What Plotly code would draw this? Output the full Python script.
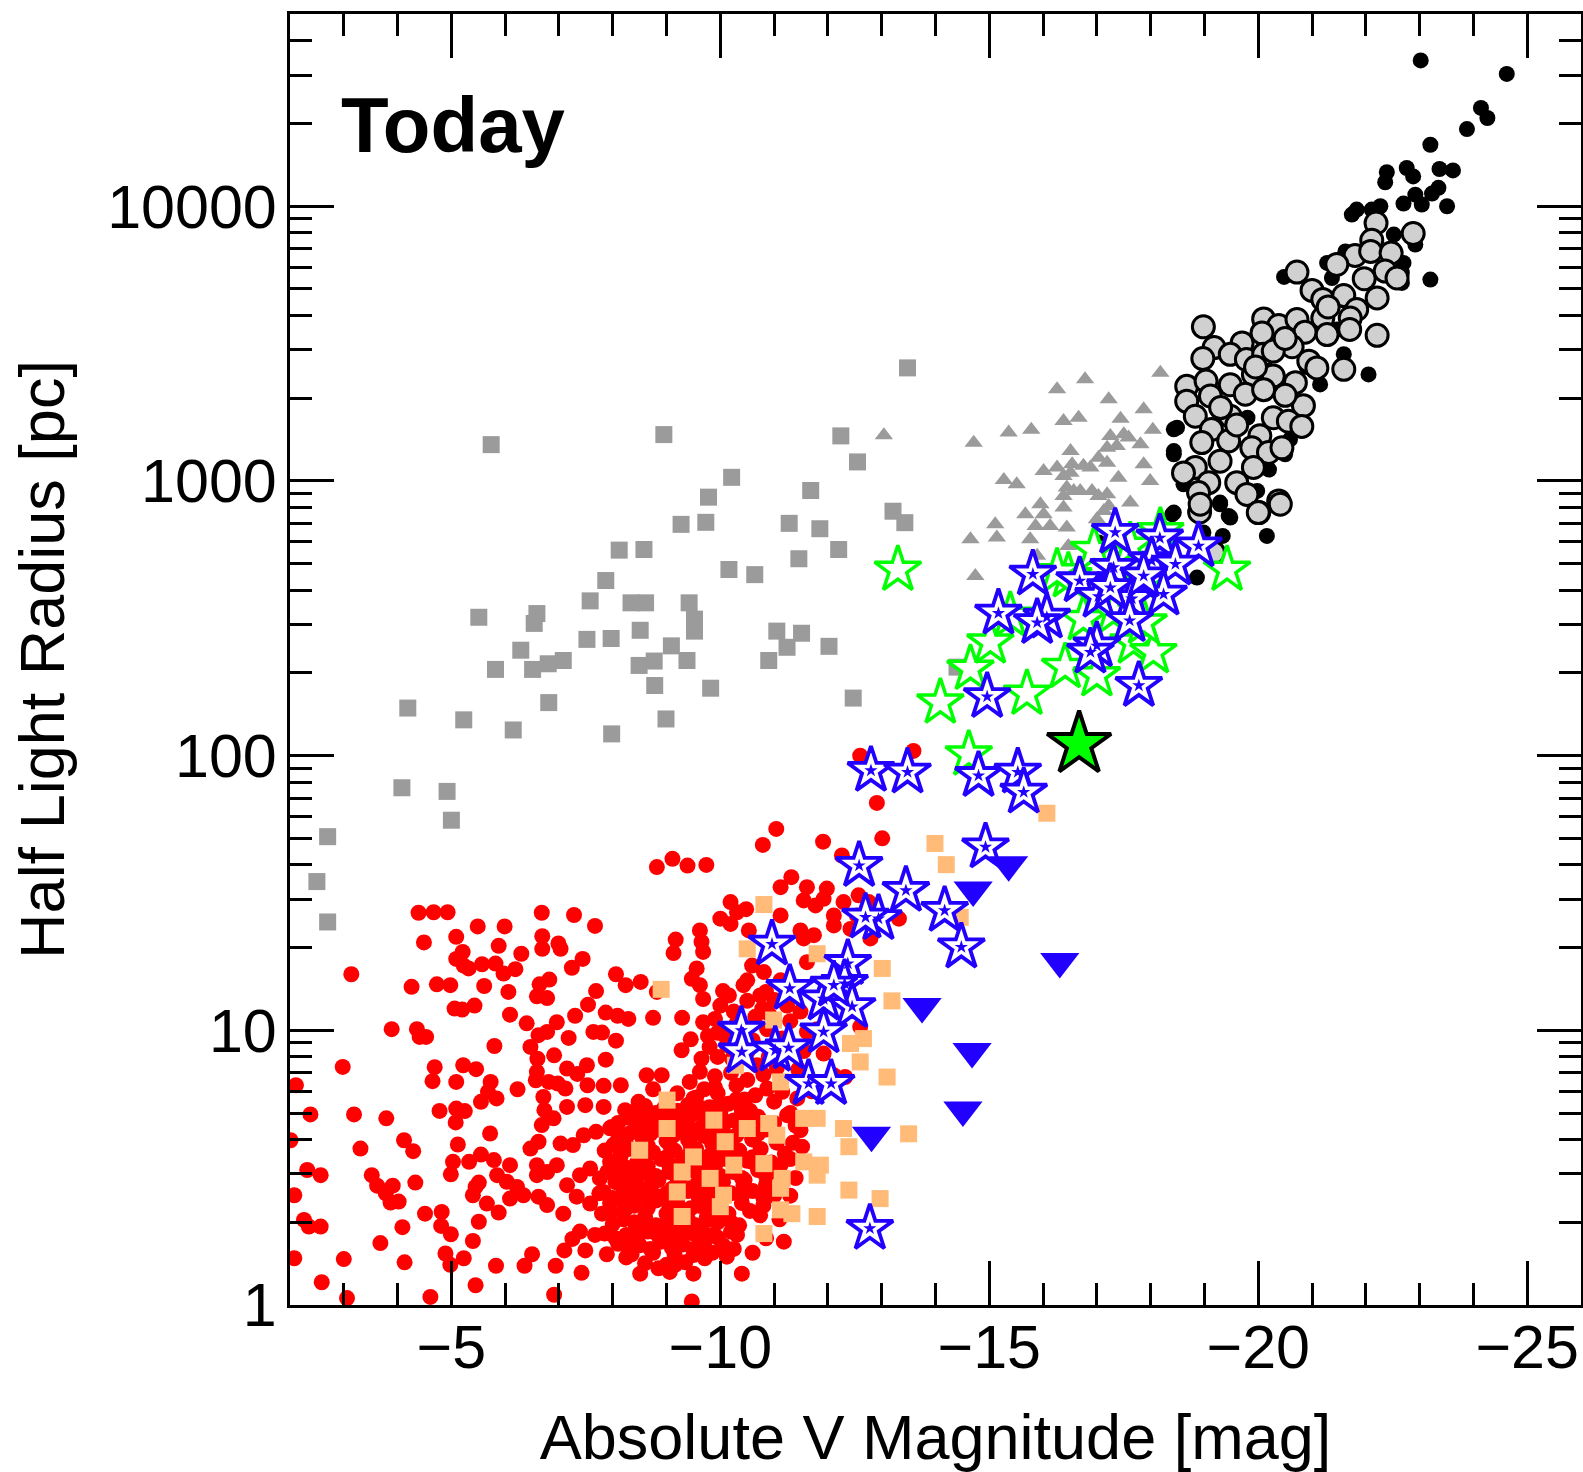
import plotly.graph_objects as go

# ---- data: (absolute V magnitude, half-light radius in pc) ----
GREY_SQUARES = [
    (-13.48, 2580), (-5.74, 1356), (-8.95, 1475), (-12.24, 1459), (-12.55, 1173), (-10.21, 1031),
    (-9.78, 873), (-11.68, 923), (-13.21, 776), (-13.43, 705), (-9.27, 695), (-9.73, 707),
    (-11.28, 701), (-11.85, 670), (-8.12, 560), (-8.58, 563), (-12.20, 563), (-11.46, 521),
    (-7.87, 434), (-10.16, 476), (-10.64, 456), (-7.58, 366), (-8.34, 360), (-8.61, 360),
    (-9.42, 360), (-5.51, 319), (-6.59, 329), (-6.54, 303), (-9.52, 314), (-9.52, 284),
    (-8.51, 286), (-7.52, 265), (-7.97, 267), (-11.05, 284), (-11.51, 279), (-11.24, 248),
    (-12.02, 250), (-9.09, 251), (-6.29, 242), (-5.82, 206), (-6.51, 206), (-6.80, 216),
    (-7.08, 222), (-8.49, 213), (-8.77, 221), (-9.38, 222), (-10.90, 222), (-8.78, 180),
    (-9.82, 176), (-12.47, 162), (-6.81, 156), (-4.19, 149), (-5.23, 135), (-6.15, 124),
    (-7.98, 120), (-8.99, 136), (-4.08, 76.4), (-4.92, 74.1), (-5.00, 58.2), (-2.70, 50.7),
    (-2.50, 34.8), (-2.70, 24.8), (-14.40, 210),
]

GREY_TRIANGLES = [
    (-13.04, 1466), (-14.71, 1378), (-15.36, 1500), (-15.78, 1535), (-16.26, 2155), (-16.78, 2344),
    (-18.18, 2478), (-17.22, 1982), (-17.87, 1823), (-16.38, 1653), (-16.66, 1700), (-17.44, 1686),
    (-18.04, 1535), (-17.25, 1459), (-17.50, 1479), (-17.59, 1438), (-17.81, 1360), (-17.19, 1322),
    (-17.37, 1341), (-16.51, 1285), (-17.03, 1216), (-16.75, 1135), (-16.88, 1119), (-16.01, 1087),
    (-16.26, 1119), (-16.54, 1150), (-17.19, 1166), (-17.87, 1150), (-15.27, 1008), (-15.51, 972),
    (-16.38, 1042), (-16.51, 1072), (-17.40, 1028), (-17.99, 1000), (-16.44, 946), (-16.57, 920),
    (-16.69, 920), (-16.38, 881), (-16.91, 920), (-17.03, 881), (-17.19, 895), (-16.38, 800),
    (-15.95, 822), (-15.67, 756), (-16.01, 756), (-17.13, 778), (-17.62, 834), (-17.22, 811),
    (-15.11, 695), (-15.86, 686), (-16.13, 686), (-16.44, 677), (-14.65, 614), (-15.14, 622),
    (-15.76, 614), (-16.47, 580), (-15.89, 534), (-14.74, 451), (-17.00, 726),
]

BLACK_DOTS = [
    (-23.02, 33960), (-24.62, 30340), (-24.14, 22800), (-24.26, 20960), (-23.88, 19100),
    (-23.20, 16750), (-22.39, 13300), (-22.36, 12230), (-22.76, 13780), (-22.88, 12840),
    (-23.37, 13670), (-23.62, 13510), (-23.35, 11670), (-23.23, 11120), (-22.92, 11020),
    (-23.04, 10140), (-22.70, 10230), (-23.51, 10000), (-21.74, 9330), (-21.83, 9730),
    (-22.11, 9730), (-22.27, 10000), (-22.92, 7260), (-22.52, 7890), (-22.70, 6220),
    (-22.67, 5260), (-23.20, 5410), (-21.62, 6850), (-21.28, 6220), (-21.37, 5480),
    (-20.48, 5530), (-22.05, 2443), (-21.15, 2246), (-18.49, 1563), (-18.43, 1250),
    (-18.61, 972), (-19.29, 834), (-19.45, 746), (-18.43, 767), (-19.34, 631), (-20.16, 631),
    (-18.98, 649), (-19.98, 920), (-20.50, 1250), (-20.59, 1416), (-21.59, 2892), (-21.46, 3556),
    (-18.67, 2153), (-18.40, 756), (-18.43, 1285), (-18.43, 1542), (-19.29, 822), (-18.86, 445),
    (-17.03, 597), (-19.48, 736), (-22.67, 5730), (-21.9, 4300), (-20.9, 2600), (-19.8, 1700),
    (-20.2, 1100), (-19.1, 1000),
]

GREY_CIRCLES = [
    (-22.19, 8690), (-22.88, 7960), (-22.11, 7520), (-21.80, 6620), (-22.09, 6850), (-22.47, 6760),
    (-21.46, 6140), (-22.36, 5810), (-21.97, 5450), (-22.58, 5480), (-20.72, 5760), (-22.21, 4640),
    (-21.00, 4940), (-21.20, 4580), (-21.59, 4730), (-21.83, 4210), (-21.20, 3920), (-21.71, 3920),
    (-18.98, 3640), (-22.21, 3390), (-21.70, 3560), (-20.10, 3890), (-20.38, 3680), (-20.72, 3870),
    (-21.28, 3410), (-20.87, 3480), (-20.63, 3080), (-20.07, 3460), (-19.70, 3180), (-19.18, 3060),
    (-18.97, 2790), (-19.48, 2890), (-19.78, 2770), (-20.10, 2890), (-20.28, 2970), (-20.94, 2730),
    (-21.09, 2580), (-21.59, 2550), (-18.67, 2210), (-19.03, 2310), (-19.48, 2240), (-19.91, 2440),
    (-20.28, 2410), (-20.69, 2280), (-18.67, 1950), (-19.11, 2040), (-19.76, 2070), (-20.10, 2150),
    (-20.84, 1880), (-18.83, 1720), (-19.48, 1720), (-20.28, 1700), (-20.56, 1650), (-20.81, 1580),
    (-19.13, 1540), (-20.03, 1460), (-18.95, 1380), (-19.45, 1400), (-19.88, 1320), (-20.19, 1270),
    (-20.44, 1320), (-19.29, 1180), (-18.83, 1120), (-19.91, 1120), (-18.61, 1070), (-19.08, 986),
    (-19.60, 986), (-19.79, 893), (-18.89, 907), (-20.38, 846), (-18.91, 771), (-20.01, 767),
    (-19.17, 548), (-18.92, 823), (-20.00, 767), (-20.41, 823), (-19.6, 1600), (-19.3, 1850),
    (-20.5, 2050), (-19.95, 2600), (-20.5, 3300), (-21.3, 4300),
]

RED_DOTS = [
    # faint, compact systems scattered at low luminosity
    (-8.82, 39.3), (-9.11, 42.1), (-9.39, 39.8), (-9.74, 40.0), (-4.39, 26.8), (-4.67, 26.9),
    (-4.93, 26.9), (-6.68, 26.8), (-7.28, 26.3), (-7.67, 24.0), (-5.49, 23.9), (-5.99, 23.9),
    (-4.49, 20.9), (-5.09, 21.9), (-5.88, 20.3), (-6.69, 22.0), (-6.69, 19.8), (-6.99, 20.7),
    (-7.03, 19.8), (-6.30, 19.0), (-7.44, 18.2), (-9.17, 21.4), (-9.13, 19.1), (-9.62, 23.1),
    (-9.65, 21.0), (-9.68, 19.3), (-5.21, 19.3), (-5.09, 18.2), (-5.23, 17.2), (-5.32, 16.8),
    (-5.57, 17.4), (-5.82, 17.5), (-5.97, 16.1), (-6.19, 16.7), (-7.24, 16.9), (-3.14, 16.0),
    (-4.26, 14.4), (-4.73, 14.7), (-4.98, 14.6), (-5.61, 14.5), (-6.06, 13.8), (-6.64, 14.7),
    (-6.82, 15.3), (-6.59, 13.3), (-6.78, 13.1), (-7.69, 13.9), (-8.06, 16.0), (-8.24, 14.6),
    (-8.52, 15.0), (-8.82, 13.8), (-9.47, 15.4), (-9.56, 16.8), (-9.62, 14.6), (-9.68, 13.0),
    (-5.06, 12.0), (-5.20, 11.9), (-5.43, 12.3), (-6.09, 11.4), (-6.40, 10.6), (-7.30, 11.3),
    (-7.54, 12.4), (-7.87, 11.6), (-8.09, 11.3), (-8.29, 11.0), (-8.75, 11.1), (-9.29, 11.1),
    (-9.68, 10.7), (-3.89, 10.1), (-4.36, 10.1), (-4.41, 9.46), (-4.53, 9.46), (-5.80, 8.77),
    (-6.62, 9.60), (-6.78, 9.87), (-6.96, 10.7), (-7.18, 9.38), (-6.47, 8.70), (-7.64, 9.87),
    (-7.80, 9.81), (-8.06, 9.17), (-9.45, 9.27), (-9.28, 8.46), (-9.65, 7.88), (-9.77, 9.54),
    (-2.98, 7.36), (-4.69, 7.34), (-5.22, 7.46), (-5.46, 7.22), (-4.65, 6.53), (-5.09, 6.49),
    (-5.73, 6.49), (-6.23, 6.10), (-5.68, 5.97), (-5.84, 5.65), (-5.55, 5.49), (-6.60, 7.88),
    (-6.91, 8.11), (-6.59, 7.06), (-7.15, 7.26), (-7.34, 6.94), (-7.52, 7.46), (-7.87, 7.82),
    (-6.57, 6.58), (-6.81, 6.49), (-6.98, 6.40), (-7.12, 6.14), (-7.53, 6.31), (-7.83, 6.28),
    (-8.15, 6.31), (-8.63, 6.86), (-8.91, 6.86), (-8.75, 6.10), (-9.43, 6.49), (-9.62, 7.06),
    (-2.11, 6.31), (-2.38, 4.94), (-3.19, 4.94), (-3.79, 4.78), (-4.78, 5.09), (-5.09, 5.19),
    (-5.25, 5.08), (-5.08, 4.62), (-5.72, 4.21), (-6.71, 5.72), (-6.73, 5.12), (-6.68, 4.52),
    (-6.90, 4.78), (-7.15, 5.26), (-7.49, 5.34), (-7.83, 5.26), (-8.23, 5.12), (-8.48, 5.49),
    (-8.63, 4.91), (-9.00, 5.12), (-9.50, 5.65), (-9.68, 5.19), (-2.01, 3.98), (-3.31, 3.71),
    (-4.12, 3.98), (-4.29, 3.63), (-5.12, 3.84), (-5.03, 3.32), (-4.99, 2.99), (-5.33, 3.32),
    (-5.55, 3.53), (-5.79, 3.37), (-6.09, 3.23), (-6.47, 3.71), (-6.62, 3.93), (-7.03, 3.87),
    (-7.26, 3.82), (-7.46, 4.15), (-7.69, 4.27), (-7.98, 4.45), (-8.01, 3.82), (-8.20, 4.15),
    (-8.51, 4.27), (-8.69, 4.33), (-9.13, 4.15), (-9.43, 4.39), (-9.68, 4.15), (-2.32, 3.10),
    (-2.57, 2.97), (-3.52, 2.97), (-3.62, 2.72), (-3.91, 2.72), (-3.78, 2.55), (-3.87, 2.36),
    (-4.02, 2.38), (-4.33, 2.79), (-5.45, 2.69), (-5.51, 2.79), (-5.85, 2.97), (-6.03, 2.81),
    (-6.22, 2.69), (-6.59, 3.23), (-6.78, 3.05), (-6.59, 2.97), (-6.96, 3.23), (-7.15, 2.73),
    (-7.39, 2.97), (-7.58, 3.14), (-7.76, 2.89), (-7.95, 3.32), (-8.14, 3.05), (-8.32, 2.89),
    (-8.51, 3.23), (-2.08, 2.51), (-2.26, 2.04), (-2.35, 1.93), (-2.57, 1.93), (-4.09, 1.92),
    (-4.51, 2.15), (-4.82, 2.18), (-4.81, 1.94), (-4.99, 1.81), (-5.51, 2.01), (-5.40, 1.71),
    (-5.40, 2.51), (-5.66, 2.34), (-5.88, 2.17), (-6.09, 2.44), (-6.34, 2.51), (-6.62, 2.48),
    (-6.78, 2.31), (-7.08, 2.15), (-7.33, 2.48), (-7.58, 2.34), (-7.83, 2.58), (-7.95, 2.18),
    (-8.20, 2.38), (-3.68, 1.68), (-3.00, 1.47), (-2.08, 1.48), (-2.59, 1.21), (-4.13, 1.43),
    (-4.89, 1.54), (-4.98, 1.40), (-5.23, 1.48), (-5.45, 1.18), (-5.83, 1.39), (-6.36, 1.39),
    (-6.50, 1.53), (-6.94, 1.39), (-7.10, 1.58), (-7.25, 1.74), (-7.39, 1.85), (-7.67, 1.80),
    (-7.49, 1.58), (-7.42, 1.31), (-7.89, 1.53), (-8.25, 1.49), (-8.51, 1.30), (-8.85, 1.36),
    (-9.06, 1.32), (-9.16, 1.40), (-9.50, 1.30), (-9.50, 1.52), (-9.71, 1.48), (-3.06, 1.06),
    (-4.61, 1.07), (-6.91, 1.09), (-9.47, 1.03),
    # brighter compact systems
    (-11.04, 54.1), (-10.79, 47.3), (-11.91, 48.6), (-13.01, 50.0), (-12.26, 43.3), (-11.32, 36.1),
    (-11.12, 33.2), (-11.61, 33.2), (-11.98, 32.8), (-11.92, 30.1), (-11.55, 29.7), (-11.77, 28.5),
    (-12.29, 29.3), (-12.57, 31.0), (-12.76, 29.3), (-12.54, 26.2), (-12.11, 26.2), (-11.12, 26.2),
    (-10.19, 29.3), (-10.31, 26.9), (-10.48, 27.6), (-10.00, 25.5), (-10.19, 24.4), (-10.53, 23.1),
    (-10.59, 17.2), (-10.50, 15.2), (-10.81, 16.3), (-11.49, 23.1), (-11.55, 21.6), (-11.74, 22.2),
    (-11.61, 17.7), (-12.11, 24.1), (-12.42, 23.4), (-12.79, 21.6), (-13.32, 25.5), (-10.74, 13.4),
    (-10.78, 12.0), (-11.12, 15.2), (-11.24, 14.6), (-10.16, 13.4), (-10.43, 14.6), (-10.00, 12.3),
    (-10.25, 11.7), (-11.24, 12.3), (-11.49, 11.7), (-11.61, 9.87), (-11.80, 10.1), (-11.92, 8.23),
    (-12.60, 10.3), (-10.50, 8.34), (-10.87, 10.1), (-11.15, 9.33), (-10.12, 8.83), (-10.22, 7.88),
    (-10.68, 7.46), (-12.11, 6.86), (-12.32, 6.76), (-11.49, 4.33), (-11.52, 3.77), (-10.74, 2.12),
    (-11.18, 1.70), (-10.31, 1.80), (-10.40, 1.30), (-10.12, 1.50), (-10.59, 4.04), (-10.59, 3.32),
    (-10.43, 2.73), (-10.81, 2.58), (-11.12, 3.23), (-11.24, 4.91), (-11.43, 5.65), (-11.15, 5.97),
    (-10.87, 6.14), (-12.91, 67.3), (-12.60, 100), (-13.59, 104),
    (-9.90, 6.8), (-10.20, 7.0), (-10.50, 6.6), (-10.80, 6.9), (-11.05, 7.3), (-9.95, 8.0),
    (-10.35, 8.1), (-10.90, 8.0), (-10.10, 9.5), (-10.60, 9.2), (-10.30, 10.6), (-10.65, 11.2),
    (-9.90, 11.0), (-10.05, 13.9), (-10.50, 12.8), (-10.90, 11.5), (-11.30, 10.8), (-11.00, 12.9),
    (-9.90, 6.2), (-10.30, 6.3), (-10.65, 5.8), (-11.00, 5.5), (-11.30, 5.0), (-10.45, 5.6),
    (-10.00, 5.4), (-9.70, 6.1), (-11.40, 4.5), (-11.35, 3.9), (-11.30, 3.4), (-11.40, 2.9),
    (-11.30, 2.5), (-11.10, 2.05), (-10.85, 1.75), (-10.60, 1.55), (-9.85, 1.55), (-10.25, 1.6),
    (-9.80, 8.7), (-9.95, 9.8), (-10.85, 13.8), (-11.55, 8.4), (-11.45, 7.2), (-11.70, 6.0),
    # the crowded core of the distribution
    (-9.20, 5.9), (-9.55, 5.7), (-9.95, 5.9), (-10.30, 5.6),
    (-8.60, 5.3), (-8.95, 5.2), (-9.40, 5.35), (-9.80, 5.25), (-10.15, 5.4), (-10.55, 5.1),
    (-8.30, 4.8), (-8.70, 4.85), (-9.10, 4.75), (-9.45, 4.9), (-9.90, 4.8), (-10.25, 4.7),
    (-10.70, 4.85), (-11.00, 4.6),
    (-7.95, 4.4), (-8.45, 4.45), (-8.85, 4.35), (-9.25, 4.4), (-9.65, 4.45), (-10.05, 4.3),
    (-10.40, 4.4), (-10.85, 4.35),
    (-8.10, 4.0), (-8.55, 4.05), (-9.00, 3.95), (-9.40, 4.0), (-9.75, 4.1), (-10.20, 3.95),
    (-10.60, 4.0), (-11.05, 3.9),
    (-7.85, 3.65), (-8.30, 3.7), (-8.75, 3.6), (-9.15, 3.65), (-9.55, 3.7), (-9.95, 3.6),
    (-10.35, 3.65), (-10.75, 3.7), (-11.20, 3.55),
    (-8.05, 3.35), (-8.45, 3.3), (-8.90, 3.4), (-9.30, 3.35), (-9.70, 3.3), (-10.10, 3.4),
    (-10.50, 3.35), (-10.95, 3.3),
    (-7.90, 3.05), (-8.25, 3.1), (-8.65, 3.0), (-9.05, 3.05), (-9.45, 3.1), (-9.85, 3.0),
    (-10.25, 3.05), (-10.70, 3.1), (-11.10, 3.0),
    (-8.05, 2.8), (-8.45, 2.75), (-8.85, 2.85), (-9.25, 2.8), (-9.65, 2.75), (-10.05, 2.8),
    (-10.45, 2.85), (-10.85, 2.75),
    (-7.75, 2.55), (-8.20, 2.6), (-8.60, 2.5), (-9.00, 2.55), (-9.40, 2.6), (-9.80, 2.5),
    (-10.20, 2.55), (-10.60, 2.6), (-11.00, 2.5),
    (-7.95, 2.35), (-8.40, 2.3), (-8.80, 2.4), (-9.20, 2.35), (-9.60, 2.3), (-10.00, 2.4),
    (-10.40, 2.35), (-10.80, 2.3),
    (-7.80, 2.15), (-8.20, 2.2), (-8.60, 2.1), (-9.00, 2.15), (-9.35, 2.2), (-9.75, 2.1),
    (-10.15, 2.15), (-10.55, 2.2),
    (-8.00, 1.97), (-8.40, 2.0), (-8.80, 1.95), (-9.15, 1.98), (-9.55, 1.95), (-9.95, 2.0),
    (-10.35, 1.95),
    (-7.85, 1.82), (-8.25, 1.8), (-8.65, 1.85), (-9.05, 1.8), (-9.45, 1.83), (-9.85, 1.8),
    (-10.20, 1.85),
    (-8.10, 1.67), (-8.50, 1.65), (-8.90, 1.7), (-9.30, 1.66), (-9.70, 1.68), (-10.05, 1.65),
    (-8.35, 1.53), (-8.75, 1.55), (-9.15, 1.52), (-9.55, 1.54),
    (-8.60, 1.42), (-9.00, 1.4), (-9.35, 1.43),
    (-8.25, 3.85), (-8.65, 3.8), (-9.05, 3.85), (-9.45, 3.8), (-9.85, 3.85),
    (-8.20, 3.2), (-8.65, 3.2), (-9.05, 3.25), (-9.50, 3.2), (-9.90, 3.2),
    (-8.30, 2.65), (-8.70, 2.7), (-9.10, 2.65), (-9.50, 2.7), (-9.90, 2.65),
    (-8.25, 2.25), (-8.65, 2.25), (-9.05, 2.3), (-9.45, 2.25), (-9.85, 2.25),
    (-8.45, 1.88), (-8.85, 1.9), (-9.25, 1.88), (-9.65, 1.9),
    (-8.40, 5.05), (-8.80, 5.0), (-9.20, 5.1), (-9.60, 5.05), (-10.00, 5.0), (-10.40, 5.1),
    (-8.10, 4.6), (-8.50, 4.6), (-8.90, 4.65), (-9.30, 4.6), (-9.70, 4.6), (-10.10, 4.65),
    (-10.50, 4.6), (-10.80, 4.55),
    (-8.30, 4.2), (-8.70, 4.2), (-9.10, 4.25), (-9.50, 4.2), (-9.90, 4.2), (-10.30, 4.15),
    (-10.70, 4.2),
    (-8.15, 3.5), (-8.60, 3.5), (-9.00, 3.45), (-9.40, 3.5), (-9.80, 3.5), (-10.20, 3.5),
    (-10.60, 3.45),
    (-8.40, 2.95), (-8.80, 2.95), (-9.20, 2.9), (-9.60, 2.95), (-10.00, 2.95), (-10.40, 2.9),
    (-10.85, 2.95),
    (-8.00, 2.45), (-8.40, 2.45), (-8.80, 2.5), (-9.20, 2.45), (-9.60, 2.45), (-10.00, 2.45),
    (-10.40, 2.5), (-10.80, 2.45),
    (-8.20, 2.05), (-8.60, 2.05), (-9.00, 2.0), (-9.40, 2.05), (-9.80, 2.05), (-10.20, 2.0),
    (-8.05, 1.75), (-8.45, 1.75), (-8.85, 1.78), (-9.20, 1.74), (-9.60, 1.75), (-9.95, 1.76),
    (-8.30, 1.6), (-8.70, 1.6), (-9.10, 1.61), (-9.50, 1.6),
]

ORANGE_SQUARES = [
    (-10.81, 28.7), (-10.50, 19.8), (-11.80, 19.0), (-13.01, 16.8), (-13.19, 12.8), (-8.90, 14.1),
    (-10.99, 10.9), (-12.66, 9.33), (-12.42, 8.95), (-12.60, 7.67), (-13.10, 6.76), (-11.12, 6.49),
    (-10.28, 7.46), (-9.01, 5.57), (-9.01, 4.39), (-9.88, 4.71), (-10.50, 4.39), (-10.90, 4.58),
    (-11.05, 4.15), (-11.55, 4.78), (-11.80, 4.78), (-12.29, 4.39), (-12.39, 3.77), (-8.50, 3.66),
    (-9.50, 3.46), (-10.09, 3.93), (-10.25, 3.23), (-10.81, 3.27), (-11.15, 2.89), (-11.55, 3.32),
    (-11.80, 2.97), (-11.86, 3.23), (-9.29, 3.05), (-9.81, 2.89), (-9.20, 2.58), (-10.06, 2.51),
    (-11.12, 2.66), (-12.39, 2.62), (-12.97, 2.44), (-9.29, 2.10), (-10.00, 2.28), (-11.12, 2.22),
    (-11.33, 2.15), (-11.80, 2.10), (-10.81, 1.82), (-13.50, 4.2), (-16.07, 61.7), (-13.99, 47.9),
    (-14.20, 40.1), (-14.46, 25.8),
]

GREEN_STARS = [
    (-13.30, 475), (-19.42, 475), (-14.09, 156), (-14.65, 207), (-15.02, 258), (-15.70, 168),
    (-16.41, 210), (-17.00, 196), (-17.68, 258), (-18.05, 238), (-15.39, 323), (-17.87, 305),
    (-18.18, 655), (-17.62, 580), (-16.47, 450), (-16.75, 314), (-17.31, 332), (-14.62, 101),
    (-16.26, 465), (-16.95, 560), (-17.90, 430),
]

BLUE_STARS = [
    (-17.34, 650), (-18.17, 620), (-18.89, 580), (-15.81, 458), (-16.68, 433), (-17.31, 484),
    (-18.02, 512), (-18.46, 498), (-17.03, 380), (-17.65, 373), (-18.24, 387), (-17.87, 451),
    (-17.25, 409), (-15.17, 330), (-16.07, 319), (-15.89, 305), (-17.61, 310), (-17.00, 251),
    (-16.88, 238), (-14.96, 164), (-17.78, 180),
    (-12.80, 88.3), (-13.48, 87.1), (-14.80, 84.6), (-15.53, 87.1), (-15.64, 73.6), (-14.93, 46.5),
    (-12.58, 39.8), (-13.45, 32.3), (-14.17, 27.3), (-14.48, 20.1), (-12.94, 25.5), (-12.70, 25.8),
    (-10.96, 20.6), (-11.29, 14.2), (-12.37, 17.5), (-12.31, 14.8), (-11.92, 13.0), (-12.45, 12.2),
    (-12.11, 14.6), (-10.39, 10.0), (-10.40, 8.34), (-11.02, 8.46), (-11.27, 8.63), (-11.92, 9.87),
    (-11.64, 6.40), (-12.06, 6.40), (-12.78, 1.90),
]

BLUE_TRIANGLES = [
    (-15.36, 40.1), (-14.70, 32.4), (-16.31, 17.8), (-13.75, 12.2), (-14.68, 8.37),
    (-14.51, 5.13), (-12.81, 4.15),
]

HIGHLIGHT_STAR = [(-16.67, 110)]

X_TICKS = [-5, -10, -15, -20, -25]
Y_TICKS = [1, 10, 100, 1000, 10000]
Y_TICK_TEXT = ["1", "10", "100", "1000", "10000"]

FONT = "Liberation Sans, Arial, Helvetica, sans-serif"
BLUE = "#2200FF"
GREEN = "#00FF00"


def cols(pairs):
    return [p[0] for p in pairs], [p[1] for p in pairs]


def scatter(pairs, **marker):
    x, y = cols(pairs)
    return go.Scatter(x=x, y=y, mode="markers", marker=marker, hoverinfo="skip", showlegend=False)


fig = go.Figure()
fig.add_trace(scatter(GREY_SQUARES, symbol="square", size=17, color="#9B9B9B"))
fig.add_trace(scatter(GREY_TRIANGLES, symbol="triangle-up", size=16, color="#9B9B9B"))
fig.add_trace(scatter(BLACK_DOTS, symbol="circle", size=16, color="black"))
fig.add_trace(scatter(GREY_CIRCLES, symbol="circle", size=22, color="#D0D0D0",
                      line=dict(color="black", width=3)))
fig.add_trace(scatter(RED_DOTS, symbol="circle", size=16, color="#FF0000"))
fig.add_trace(scatter(ORANGE_SQUARES, symbol="square", size=17, color="#FFBB77"))
fig.add_trace(scatter(GREEN_STARS, symbol="star", size=35, color="white",
                      line=dict(color=GREEN, width=3.5)))
fig.add_trace(scatter(BLUE_STARS, symbol="star", size=35, color="white",
                      line=dict(color=BLUE, width=3.8)))
fig.add_trace(scatter(BLUE_STARS, symbol="star", size=10, color=BLUE, line=dict(width=0)))
fig.add_trace(scatter(BLUE_TRIANGLES, symbol="triangle-down", size=34, color=BLUE))
fig.add_trace(scatter(HIGHLIGHT_STAR, symbol="star", size=48, color=GREEN,
                      line=dict(color="black", width=4)))

axis_common = dict(
    showline=True, linewidth=3, linecolor="black", mirror="allticks",
    ticks="inside", ticklen=44, tickwidth=3, tickcolor="black",
    showgrid=False, zeroline=False, automargin=False,
    tickfont=dict(family=FONT, size=61, color="black"),
)

fig.update_xaxes(
    **axis_common,
    range=[-2, -26],
    tickmode="array", tickvals=X_TICKS,
    minor=dict(ticks="inside", ticklen=22, tickwidth=3, tickcolor="black",
               tick0=0, dtick=1, showgrid=False),
    title=dict(text="Absolute V Magnitude [mag]", font=dict(family=FONT, size=63, color="black"),
               standoff=42),
    ticklabelstandoff=-13,
)

minor_y = [m * 10 ** e for e in range(0, 5) for m in range(2, 10)]
fig.update_yaxes(
    **axis_common,
    type="log", range=[0, 4.7],
    tickmode="array", tickvals=Y_TICKS, ticktext=Y_TICK_TEXT,
    minor=dict(ticks="inside", ticklen=22, tickwidth=3, tickcolor="black",
               tickmode="array", tickvals=minor_y, showgrid=False),
    title=dict(text="Half Light Radius [pc]", font=dict(family=FONT, size=63, color="black"),
               standoff=23),
    ticklabelstandoff=-2,
)

fig.add_annotation(
    text="<b>Today</b>", xref="paper", yref="paper", x=0.038, y=0.914,
    xanchor="left", yanchor="middle", showarrow=False,
    font=dict(family=FONT, size=78, color="black"),
)

fig.update_layout(
    width=1583, height=1472,
    margin=dict(l=290, r=2, t=14, b=167),
    paper_bgcolor="white", plot_bgcolor="white",
    font=dict(family=FONT, color="black"),
)

fig.write_html("out.html")
